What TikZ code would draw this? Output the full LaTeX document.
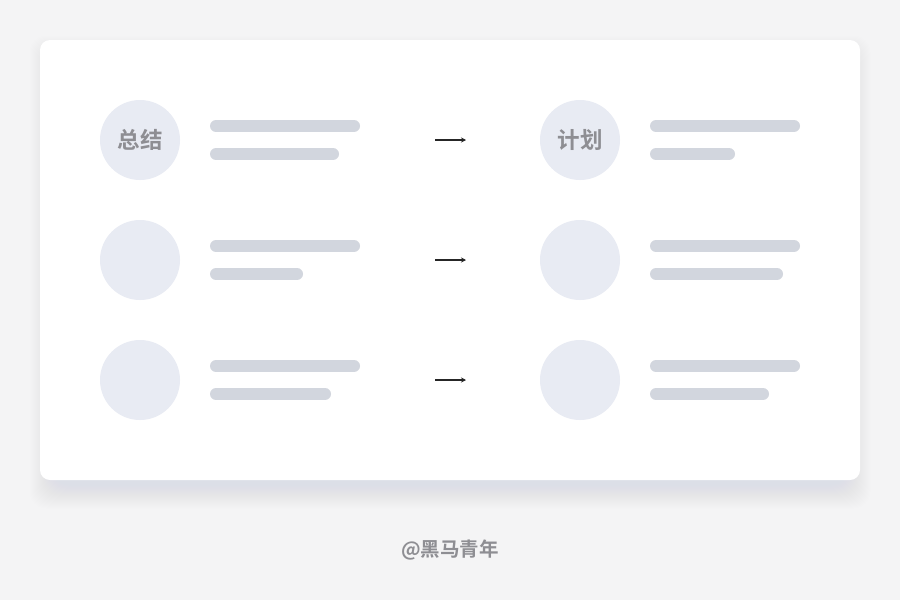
\documentclass[tikz,border=0pt]{standalone}
\usepackage{fontspec}
\newfontfamily\cjk{Noto Sans CJK SC}
\newfontfamily\cjkb{Noto Sans CJK SC Bold}
\usetikzlibrary{arrows.meta}
\definecolor{bg}{HTML}{F4F4F5}
\definecolor{circ}{HTML}{E8EBF3}
\definecolor{bar}{HTML}{D2D6DE}
\definecolor{lbl}{HTML}{8E8E93}
\definecolor{shad}{HTML}{DCDFE7}
\tikzset{
  circnode/.style={circle, fill=circ, minimum size=80pt, inner sep=0pt, text=lbl, font=\cjkb\fontsize{22.5}{22.5}\selectfont},
  barline/.style={line width=12pt, line cap=round, draw=bar},
  arr/.style={-{Stealth[length=5pt,width=5pt]}, line width=1.1pt, draw=black!85},
}
\begin{document}
\begin{tikzpicture}[x=1pt,y=-1pt]
\useasboundingbox (0,0) rectangle (900,600);
\fill[bg] (0,0) rectangle (900,600);
% shadow
\foreach \i in {1,...,24}{
  \fill[shad, opacity=0.025, rounded corners=16pt] (40+14-\i,40+20-\i) rectangle (860-14+\i,480+4+\i*1.0);
}
\fill[white, rounded corners=10pt] (40,40) rectangle (860,480);
% rows
\node[circnode] (c1) at (140,140) {总结};
\node[circnode] (c2) at (140,260) {};
\node[circnode] (c3) at (140,380) {};
\node[circnode] (d1) at (580,140) {计划};
\node[circnode] (d2) at (580,260) {};
\node[circnode] (d3) at (580,380) {};
% bars
\draw[barline] (216,126) -- (354,126);
\draw[barline] (216,154) -- (333,154);
\draw[barline] (216,246) -- (354,246);
\draw[barline] (216,274) -- (297,274);
\draw[barline] (216,366) -- (354,366);
\draw[barline] (216,394) -- (325,394);
\draw[barline] (656,126) -- (794,126);
\draw[barline] (656,154) -- (729,154);
\draw[barline] (656,246) -- (794,246);
\draw[barline] (656,274) -- (777,274);
\draw[barline] (656,366) -- (794,366);
\draw[barline] (656,394) -- (763,394);
% arrows
\coordinate (a1s) at (435,140); \coordinate (a1e) at (466,140);
\coordinate (a2s) at (435,260); \coordinate (a2e) at (466,260);
\coordinate (a3s) at (435,380); \coordinate (a3e) at (466,380);
\draw[arr] (a1s) -- (a1e);
\draw[arr] (a2s) -- (a2e);
\draw[arr] (a3s) -- (a3e);
\node[text=lbl, font=\cjkb\fontsize{19.5}{19.5}\selectfont] (foot) at (450,550) {@黑马青年};
\end{tikzpicture}
\end{document}
